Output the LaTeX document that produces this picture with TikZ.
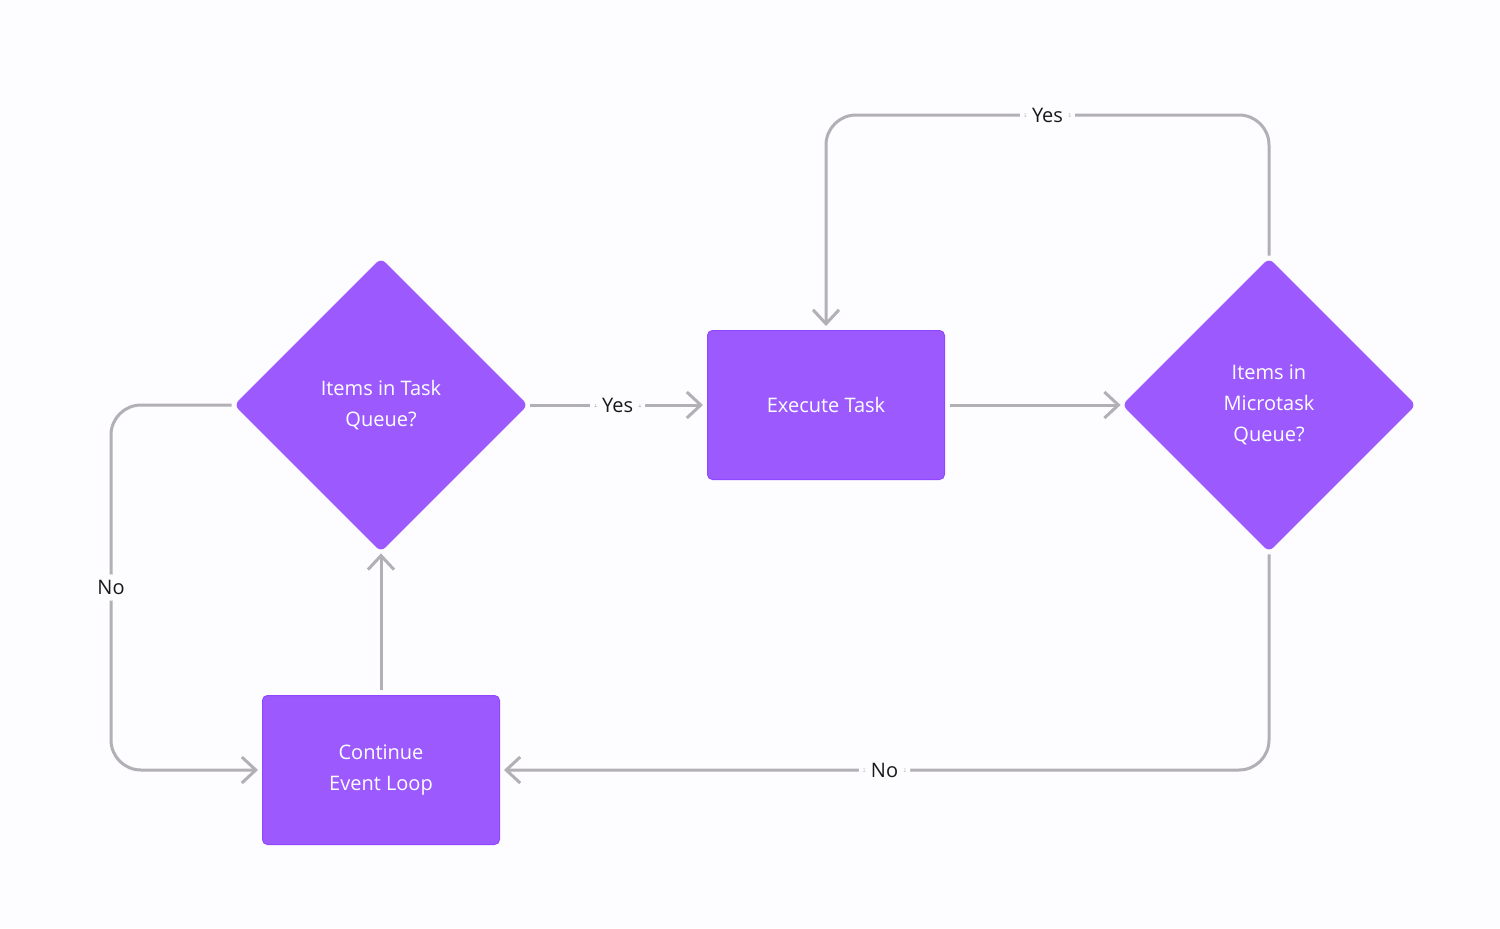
\documentclass[tikz,border=0pt]{standalone}
\usepackage{fontspec}
\setmainfont{Open Sans}
\usetikzlibrary{shapes.geometric,arrows.meta}

\definecolor{boxpurple}{HTML}{9C5AFE}
\definecolor{boxedge}{HTML}{9146FF}
\definecolor{linegray}{HTML}{B2B0B5}
\definecolor{bgwhite}{HTML}{FDFCFE}

\tikzset{
  decision/.style={diamond, aspect=1, fill=boxpurple, minimum size=147pt, inner sep=0pt,
    rounded corners=3pt, text=white, align=center, font=\fontsize{10}{15.5}\selectfont},
  process/.style={rectangle, fill=boxpurple, draw=boxedge, line width=0.5pt, minimum width=118.5pt,
    minimum height=74.5pt, rounded corners=2.5pt, text=white, align=center,
    font=\fontsize{10}{15.5}\selectfont},
  flow/.style={draw=linegray, line width=1.5pt, rounded corners=15pt,
    -{Straight Barb[length=7pt,width=13pt,line width=1.5pt]}, shorten >=2pt, shorten <=2.5pt},
  lbl/.style={fill=bgwhite, text=black!90, inner xsep=6pt, inner ysep=3pt,
    font=\fontsize{10}{12}\selectfont}
}

\begin{document}
\begin{tikzpicture}[x=0.5pt,y=-0.5pt]
  \fill[bgwhite] (0,0) rectangle (1500,928);
  \useasboundingbox (0,0) rectangle (1500,928);

  % nodes
  \node[decision] (taskq) at (381,405) {Items in Task\\Queue?};
  \node[process] (exec) at (826,405) {Execute Task};
  \node[decision] (microq) at (1269,405) {Items in\\Microtask\\Queue?};
  \node[process] (cont) at (381,770) {Continue\\Event Loop};

  \coordinate (ytop) at (0,115);
  \coordinate (xleft) at (111,0);

  % connectors
  \draw[flow, shorten <=1pt] (taskq.east) -- node[lbl]{Yes} (exec.west);
  \draw[flow, shorten >=0.5pt] (exec.east) -- (microq.west);
  \draw[flow, shorten <=1pt] (microq.north) -- (microq.north |- ytop) -- node[lbl]{Yes} (exec.north |- ytop) -- (exec.north);
  \draw[flow, shorten <=1pt] (microq.south) |- node[lbl,pos=0.75]{No} (cont.east);
  \draw[flow, shorten >=0.5pt] (cont.north) -- (taskq.south);
  \draw[flow, shorten <=1pt] (taskq.west) -- (taskq.west -| xleft) -- node[lbl]{No} (cont.west -| xleft) -- (cont.west);

\end{tikzpicture}
\end{document}
